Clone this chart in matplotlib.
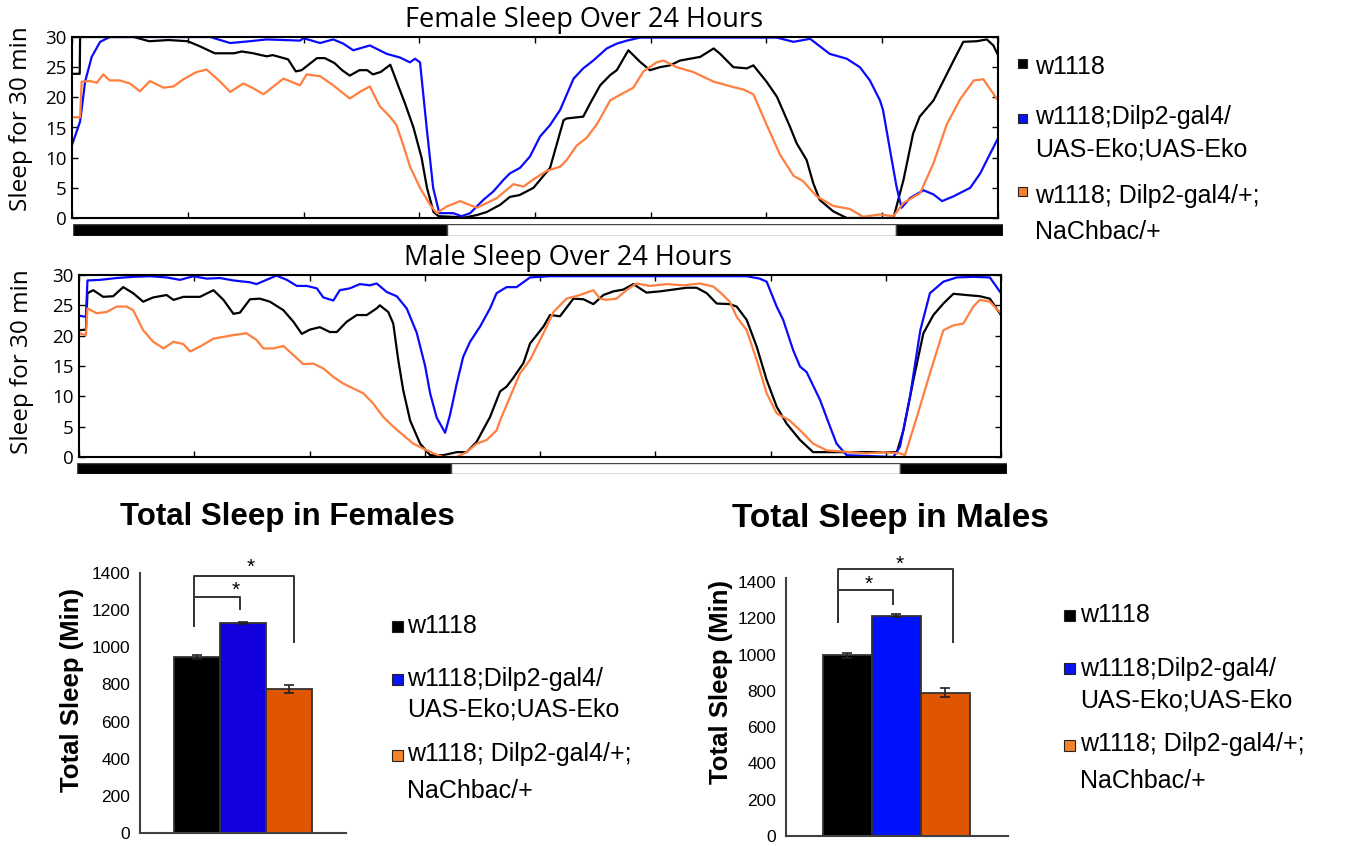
import matplotlib
matplotlib.use('Agg')
import matplotlib.pyplot as plt
from matplotlib.patches import Rectangle

plt.rcParams['font.family'] = ['Liberation Sans', 'DejaVu Sans']

genotypes = ['w1118', 'w1118;Dilp2-gal4/\nUAS-Eko;UAS-Eko', 'w1118; Dilp2-gal4/+;\nNaChbac/+']

# sleep per 30 min: hour -> minutes
f_black_h = [0, 0.2, 0.21, 1.6, 2.0, 2.5, 3.0, 3.3, 3.7, 4.2, 4.4, 4.7, 4.9, 5.05, 5.2, 5.6, 5.8, 5.95, 6.35, 6.55,
             6.8, 7.0, 7.2, 7.45, 7.65, 7.8, 8.0, 8.25, 8.45, 8.63, 8.85, 9.06, 9.2, 9.37, 9.5, 10.2, 10.5, 10.75,
             11.1, 11.35, 11.6, 11.96, 12.39, 12.74, 12.82, 13.25, 13.43, 13.69, 13.95, 14.12, 14.42, 14.72, 14.98,
             15.24, 15.5, 15.76, 16.02, 16.28, 16.63, 16.8, 17.14, 17.49, 17.66, 18.0, 18.27, 18.61, 18.78, 19.04,
             19.21, 19.38, 19.73, 20.08, 21.29, 21.55, 21.8, 21.97, 22.33, 22.59, 22.85, 23.1, 23.45, 23.71, 23.88, 24.0]
f_black_v = [23.9, 23.9, 30, 30, 29.3, 29.5, 29.3, 28.5, 27.3, 27.3, 27.6, 27.3, 27.0, 26.8, 27.0, 26.3, 24.3, 24.5,
             26.5, 26.5, 25.7, 24.5, 23.6, 24.5, 24.5, 23.8, 24.2, 25.4, 22, 19, 15, 10, 5, 1, 0.3, 0.1, 0.5, 1.0,
             2.2, 3.5, 3.8, 5.0, 8.3, 16.2, 16.5, 16.8, 19, 22, 23.7, 24.5, 27.8, 25.9, 24.5, 25, 25.3, 26.1, 26.4,
             26.7, 28.1, 27.2, 25, 24.8, 25.3, 22.6, 20.1, 15.1, 12.4, 9.6, 5.8, 3, 1.1, 0, 0, 6.3, 14, 16.8, 19.5,
             22.8, 26.1, 29.2, 29.3, 29.6, 28.6, 27]

f_blue_h = [0, 0.21, 0.34, 0.51, 0.73, 0.98, 3.58, 4.1, 4.61, 5.05, 5.91, 6.0, 6.43, 6.77, 7.03, 7.29, 7.72, 8.16,
            8.5, 8.76, 8.89, 9.02, 9.19, 9.36, 9.52, 9.88, 10.1, 10.32, 10.66, 10.92, 11.18, 11.35, 11.61, 11.87,
            12.13, 12.39, 12.65, 13.0, 13.25, 13.51, 13.86, 14.12, 14.38, 14.72, 18.27, 18.7, 19.13, 19.64, 20.08,
            20.42, 20.68, 20.94, 21.02, 21.2, 21.37, 21.5, 21.72, 22.07, 22.33, 22.55, 22.85, 23.28, 23.54, 23.8, 24.0]
f_blue_v = [12.1, 16, 22.6, 26.7, 29.2, 30, 30, 29, 29.3, 29.6, 29.4, 29.8, 29, 29.6, 28.9, 27.8, 28.6, 27.2, 26.6,
            25.8, 26.4, 25.8, 15.1, 5, 0.8, 0.8, 0.3, 0.8, 3, 4.4, 6.3, 7.4, 8.3, 10.2, 13.5, 15.4, 17.9, 23.1, 24.8,
            26.1, 28.1, 28.9, 29.4, 29.9, 29.9, 29.2, 29.7, 27.2, 26.4, 25, 22.8, 19.5, 17.9, 11.3, 5.2, 1.7, 3.3,
            4.6, 3.9, 2.8, 3.6, 5, 7.4, 10.7, 13.2]

f_orange_h = [0, 0.21, 0.25, 0.47, 0.64, 0.81, 0.98, 1.24, 1.5, 1.76, 2.02, 2.37, 2.63, 2.89, 3.23, 3.49, 3.84, 4.1,
              4.44, 4.7, 4.96, 5.22, 5.48, 5.91, 6.08, 6.43, 6.77, 7.2, 7.46, 7.72, 7.98, 8.24, 8.41, 8.59, 8.76,
              9.02, 9.28, 9.45, 9.71, 10.06, 10.49, 10.66, 11.01, 11.44, 11.7, 11.96, 12.3, 12.65, 12.82, 13.08,
              13.34, 13.6, 13.95, 14.2, 14.55, 14.81, 15.15, 15.33, 15.67, 16.1, 16.63, 17.14, 17.4, 17.66, 18.0,
              18.35, 18.7, 18.95, 19.3, 19.73, 20.16, 20.5, 20.94, 21.29, 21.55, 21.98, 22.33, 22.67, 23.02, 23.37,
              23.62, 24.0]
f_orange_v = [16.7, 16.7, 22.6, 22.7, 22.4, 23.8, 22.8, 22.8, 22.3, 21, 22.7, 21.6, 21.8, 23, 24.2, 24.6, 22.6, 20.9,
              22.3, 21.5, 20.5, 21.8, 23.1, 22, 23.8, 23.5, 22, 19.8, 20.9, 21.8, 18.5, 16.8, 15.4, 12, 8.5, 5, 2.2,
              0.8, 1.9, 2.8, 1.7, 2.2, 3.3, 5.6, 5.2, 6.4, 7.8, 8.5, 9.6, 12, 13.3, 15.5, 19.5, 20.4, 21.6, 24.3,
              25.8, 26.1, 25, 24.2, 22.6, 21.7, 21.3, 20.5, 15.5, 10.5, 7, 6.1, 3.6, 2, 1.5, 0.2, 0.6, 0.3, 2.5, 4.1,
              9.1, 15.5, 19.7, 22.8, 23, 19.5]

m_black_h = [0, 0.18, 0.22, 0.37, 0.63, 0.89, 1.15, 1.41, 1.67, 1.93, 2.28, 2.46, 2.72, 3.15, 3.5, 3.76, 4.02, 4.19,
             4.45, 4.71, 4.97, 5.32, 5.58, 5.8, 6.01, 6.27, 6.53, 6.71, 6.97, 7.23, 7.49, 7.75, 7.83, 8.05, 8.18,
             8.31, 8.44, 8.62, 8.88, 9.14, 9.48, 9.83, 10.09, 10.35, 10.7, 10.96, 11.13, 11.3, 11.57, 11.74, 12.09,
             12.26, 12.52, 12.87, 13.13, 13.39, 13.65, 13.91, 14.17, 14.43, 14.77, 15.12, 15.47, 15.82, 16.08, 16.34,
             16.6, 16.94, 17.12, 17.38, 17.64, 17.9, 18.16, 18.42, 18.77, 19.11, 21.29, 21.46, 21.72, 21.98, 22.24,
             22.5, 22.76, 23.1, 23.45, 23.71, 24.0]
m_black_v = [20.9, 21, 27, 27.5, 26.4, 26.5, 28, 27, 25.6, 26.3, 26.7, 25.9, 26.4, 26.4, 27.5, 25.9, 23.6, 23.8, 26,
             26.1, 25.6, 24.2, 22.3, 20.3, 21, 21.4, 20.6, 20.6, 22.3, 23.4, 23.4, 24.5, 25, 23.9, 22, 16, 11, 6,
             2.2, 0.3, 0.3, 0.8, 0.8, 2.5, 6.6, 10.8, 11.6, 13, 15.5, 18.7, 21.5, 23.4, 23.2, 26.1, 26, 25.2, 26.7,
             27.3, 27.6, 28.5, 27.1, 27.3, 27.6, 27.9, 27.9, 27, 25.3, 25.2, 24.8, 22.6, 18.2, 12.7, 8.3, 5.5, 2.8,
             0.8, 0.8, 4.4, 12.7, 20.4, 23.4, 25.3, 26.9, 26.7, 26.5, 26.1, 23.4]

m_blue_h = [0, 0.18, 0.22, 0.55, 0.98, 1.41, 1.85, 2.28, 2.63, 2.98, 3.32, 3.67, 4.02, 4.45, 4.62, 4.88, 5.14, 5.41,
            5.67, 5.93, 6.19, 6.36, 6.62, 6.79, 7.05, 7.31, 7.57, 7.75, 8.01, 8.27, 8.53, 8.79, 9.01, 9.14, 9.31,
            9.53, 9.66, 9.83, 10.0, 10.18, 10.44, 10.7, 10.87, 11.13, 11.39, 11.74, 12.26, 17.38, 17.72, 17.9, 18.16,
            18.33, 18.59, 18.77, 18.94, 19.29, 19.55, 19.72, 19.98, 21.2, 21.37, 21.63, 21.9, 22.15, 22.5, 22.85,
            23.28, 23.71, 24.0]
m_blue_v = [23.3, 23.1, 29.1, 29.2, 29.5, 29.7, 29.8, 29.6, 29.2, 29.8, 29.4, 29.5, 29.1, 28.8, 28.5, 29.2, 29.9,
            29.2, 28.2, 28.2, 27.8, 26.3, 25.8, 27.5, 27.8, 28.5, 28.3, 28.6, 27.2, 26.5, 24.5, 20.5, 15, 10.5, 6.5,
            4, 7, 12, 16.5, 19, 21.5, 24.5, 27, 28, 28, 29.6, 29.8, 29.8, 29.4, 28.9, 24.8, 22.6, 17.6, 14.9, 14,
            9.4, 5, 2.2, 0.3, 0, 1.7, 9.9, 20.9, 27, 28.9, 29.6, 29.7, 29.6, 27]

m_orange_h = [0, 0.18, 0.22, 0.46, 0.72, 0.98, 1.24, 1.41, 1.67, 1.93, 2.2, 2.46, 2.72, 2.89, 3.15, 3.5, 3.76, 4.02,
              4.36, 4.62, 4.8, 5.06, 5.32, 5.58, 5.84, 6.1, 6.36, 6.62, 6.88, 7.14, 7.4, 7.66, 7.92, 8.18, 8.44, 8.7,
              8.96, 9.22, 9.48, 9.83, 10.09, 10.35, 10.61, 10.87, 10.96, 11.22, 11.48, 11.74, 12.09, 12.35, 12.69,
              13.04, 13.39, 13.56, 13.73, 13.99, 14.25, 14.51, 14.86, 15.3, 15.73, 16.16, 16.51, 16.68, 16.94, 17.12,
              17.38, 17.64, 17.9, 18.16, 18.5, 18.77, 19.11, 19.46, 20.07, 20.5, 20.94, 21.37, 21.5, 21.81, 22.15,
              22.5, 22.76, 23.02, 23.28, 23.45, 23.71, 24.0]
m_orange_v = [20.4, 20.1, 24.5, 23.7, 23.9, 24.8, 24.8, 24.2, 20.9, 19, 17.9, 19, 18.6, 17.4, 18.2, 19.5, 19.8, 20.1,
              20.4, 19.3, 17.9, 17.9, 18.3, 16.8, 15.3, 15.4, 14.6, 13.2, 12.1, 11.3, 10.5, 8.8, 6.6, 5, 3.6, 2.2,
              1.4, 0.6, 0, 0, 0.8, 2.2, 2.8, 4.4, 6, 9.9, 13.8, 16, 20.4, 23.9, 26.1, 26.7, 27.5, 26.1, 25.9, 26.1,
              27.5, 28.6, 28.2, 28.5, 28.3, 28.6, 28.1, 27.2, 25.6, 23.1, 20.9, 16, 10.5, 7.2, 6, 4.4, 2.2, 1.1, 0.8,
              0.6, 0.8, 0.6, 0.3, 6.6, 13.8, 20.9, 21.7, 22, 24.8, 25.9, 25.6, 23.7]

# light/dark bar under the traces (hours)
light_phases = [(0.0, 9.65, 'black'), (9.65, 21.25, 'white'), (21.25, 24.0, 'black')]

# total sleep (min) and error
female_total = [948, 1131, 776]
female_err = [13, 5, 23]
male_total = [995, 1215, 790]
male_err = [13, 6, 23]

# significance brackets: (left x, left bottom, top, right x, right bottom), star (x, y)
female_brackets = [(-0.07, 1115, 1271, 0.93, 1206), (-0.07, 1115, 1384, 2.1, 1028)]
female_stars = [(0.85, 1276), (1.17, 1400)]
male_brackets = [(-0.18, 1180, 1356, 0.94, 1279), (-0.18, 1180, 1472, 2.16, 1069)]
male_stars = [(0.45, 1356), (1.08, 1466)]

W, H = 1346, 846
fig = plt.figure(figsize=(W / 100, H / 100), dpi=100)

LINE_FONT = 'Open Sans'
trace_colors = ['black', '#0a0aff', '#ff7f3f']
legend_colors = ['black', '#0a14f0', '#f4822a']


def px_axes(left, top, right, bottom):
    return fig.add_axes([left / W, 1 - bottom / H, (right - left) / W, (bottom - top) / H])


def ftext(x, y, s, **kw):
    return fig.text(x / W, 1 - y / H, s, **kw)


def trace_panel(box, bar_box, traces, title, title_xy, ylab_xy):
    ax = px_axes(*box)
    for (h, v), c in zip(traces, trace_colors):
        ax.plot(h, v, color=c, lw=1.6)
    ax.set_xlim(0, 24)
    ax.set_ylim(0, 30)
    ax.set_xticks(range(0, 25, 3))
    ax.set_xticklabels([])
    ax.set_yticks(range(0, 31, 5))
    ax.set_yticklabels([str(t) for t in range(0, 31, 5)], family=LINE_FONT)
    ax.tick_params(direction='in', top=True, right=True, length=4, width=1, labelsize=13.5, pad=4)
    for s in ax.spines.values():
        s.set_linewidth(1.5)
    ftext(*title_xy, title, ha='center', va='center', fontsize=19.5, family=LINE_FONT)
    ftext(*ylab_xy, 'Sleep for 30 min', ha='center', va='center', rotation=90, fontsize=17.5, family=LINE_FONT)

    bar = px_axes(*bar_box)
    for start, end, c in light_phases:
        bar.barh(0, end - start, left=start, height=1, color=c, edgecolor='#444444', lw=1)
    bar.set_xlim(0, 24)
    bar.set_ylim(-0.5, 0.5)
    bar.axis('off')


def total_panel(box, xlim, ylim_top, totals, errs, colors, brackets, stars, title, title_xy, title_size, ylab_xy):
    ax = px_axes(*box)
    ax.bar(range(3), totals, width=1, color=colors, edgecolor='#333333', linewidth=1.3,
           yerr=errs, capsize=3.5, error_kw=dict(ecolor='#222222', elinewidth=1.2, capthick=1.2))
    ax.set_xlim(*xlim)
    ax.set_ylim(0, ylim_top)
    ax.set_yticks(range(0, 1401, 200))
    ax.set_xticks([])
    ax.tick_params(axis='y', length=0, labelsize=12.5, pad=7)
    for side in ['top', 'right']:
        ax.spines[side].set_visible(False)
    for side in ['left', 'bottom']:
        ax.spines[side].set_color('#404040')
        ax.spines[side].set_linewidth(1.5)
    for x0, y0, top, x1, y1 in brackets:
        ax.plot([x0, x0, x1, x1], [y0, top, top, y1], color='#333333', lw=1.4, clip_on=False)
    for sx, sy in stars:
        ax.text(sx, sy, '*', ha='center', va='baseline', fontsize=15, clip_on=False)
    ftext(*title_xy, title, ha='center', va='center', fontsize=title_size, fontweight='bold')
    ftext(*ylab_xy, 'Total Sleep (Min)', ha='center', va='center', rotation=90, fontsize=18.5, fontweight='bold')


def legend(sq_x, sq_size, txt_x, sq_centers, baselines, gaps):
    for lab, col, sc, b0, gap in zip(genotypes, legend_colors, sq_centers, baselines, gaps):
        fig.patches.append(Rectangle((sq_x / W, 1 - (sc + sq_size / 2) / H), sq_size / W, sq_size / H,
                                     transform=fig.transFigure, facecolor=col, edgecolor='#222222', lw=0.8))
        for i, line in enumerate(lab.split('\n')):
            ftext(txt_x, b0 + i * gap, line, va='baseline', fontsize=18)


trace_panel((72, 37, 998, 218), (73, 224, 1003, 236),
            [(f_black_h, f_black_v), (f_blue_h, f_blue_v), (f_orange_h, f_orange_v)],
            'Female Sleep Over 24 Hours', (584, 20), (21, 119))
trace_panel((79, 275, 1001, 457), (77, 463, 1007, 474),
            [(m_black_h, m_black_v), (m_blue_h, m_blue_v), (m_orange_h, m_orange_v)],
            'Male Sleep Over 24 Hours', (568, 258), (22, 362))
legend(1018, 9, 1035, [64, 119, 192], [74, 124, 203], [0, 33, 36])

total_panel((140, 573, 346, 833), (-1.24, 3.24), 1400, female_total, female_err,
            ['#000000', '#1100dd', '#e05500'], female_brackets, female_stars,
            'Total Sleep in Females', (287, 517), 22.5, (72, 690))
legend(392, 11, 407, [626, 679, 755], [633, 686, 761], [0, 31, 37])

total_panel((786, 578, 1008, 836), (-1.245, 3.285), 1422, male_total, male_err,
            ['#000000', '#0011ff', '#e05500'], male_brackets, male_stars,
            'Total Sleep in Males', (890, 518), 24, (721, 682))
legend(1064, 11, 1080, [615, 668, 745], [622, 676, 751], [0, 31, 37])

fig.savefig('out.png', dpi=100)
